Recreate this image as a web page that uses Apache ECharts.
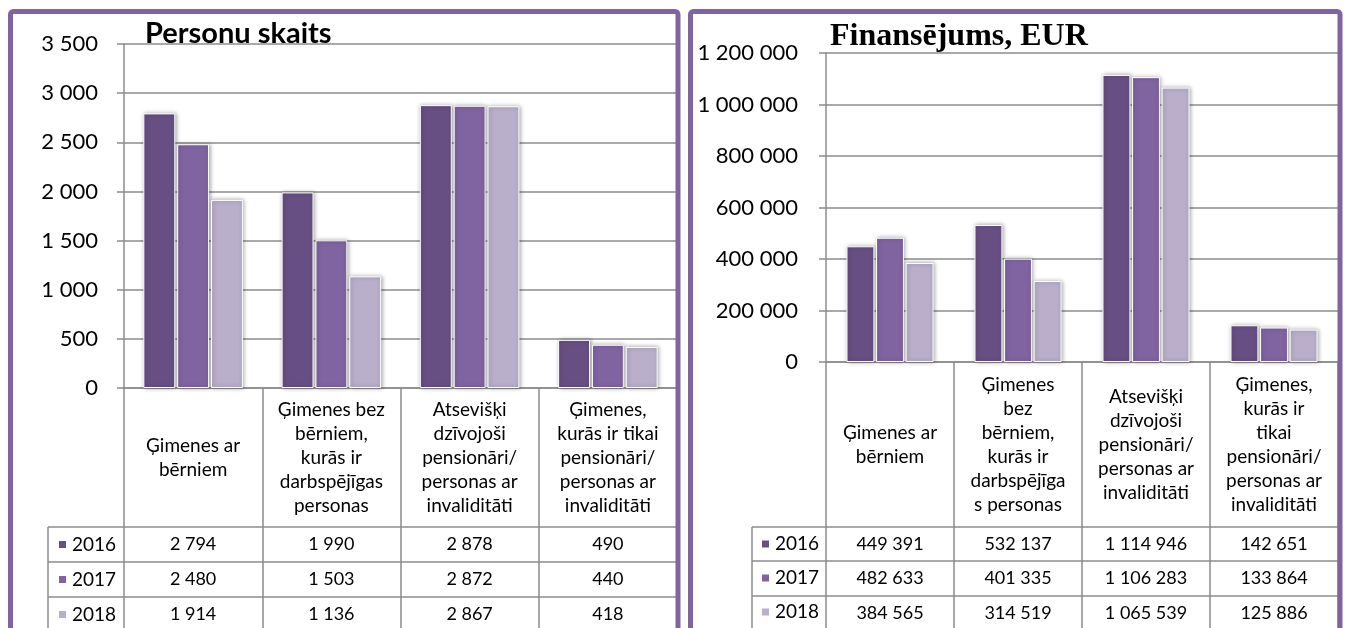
<!DOCTYPE html>
<html>
<head>
<meta charset="utf-8">
<script src="https://cdn.jsdelivr.net/npm/echarts@6/dist/echarts.min.js"></script>
<style>
html, body { margin: 0; padding: 0; background: #fff; }
#main { width: 1348px; height: 628px; }
</style>
</head>
<body>
<div id="main"></div>
<script>
// years / colours
const years = ['2016', '2017', '2018'];
const yearColors = ['#674f84', '#8064a2', '#b9afcb'];

// Personu skaits
const personCategories = [
    'Ģimenes ar\nbērniem',
    'Ģimenes bez\nbērniem,\nkurās ir\ndarbspējīgas\npersonas',
    'Atsevišķi\ndzīvojoši\npensionāri/\npersonas ar\ninvaliditāti',
    'Ģimenes,\nkurās ir tikai\npensionāri/\npersonas ar\ninvaliditāti'
];
const persons2016 = [2794, 1990, 2878, 490];
const persons2017 = [2480, 1503, 2872, 440];
const persons2018 = [1914, 1136, 2867, 418];

// Finansējums, EUR
const fundingCategories = [
    'Ģimenes ar\nbērniem',
    'Ģimenes\nbez\nbērniem,\nkurās ir\ndarbspējīga\ns personas',
    'Atsevišķi\ndzīvojoši\npensionāri/\npersonas ar\ninvaliditāti',
    'Ģimenes,\nkurās ir\ntikai\npensionāri/\npersonas ar\ninvaliditāti'
];
const funding2016 = [449391, 532137, 1114946, 142651];
const funding2017 = [482633, 401335, 1106283, 133864];
const funding2018 = [384565, 314519, 1065539, 125886];

const thousands = (v) => String(v).replace(/\B(?=(\d{3})+(?!\d))/g, ' ');

const LINE = '#8c8c8c';
const FONT = 'Lato';

const panels = [
    {
        title: 'Personu skaits',
        titleStyle: { fontFamily: FONT, fontWeight: 'bold', fontSize: 29, color: '#000' },
        titleLeft: 145, titleTop: 19,
        categories: personCategories,
        values: [persons2016, persons2017, persons2018],
        max: 3500, interval: 500,
        frameX: 10.5, frameW: 667.5,
        left: 124, width: 553, top: 44, bottom: 388,
        rows: [527, 562, 597, 632], tableLeft: 48, iconX: 57,
        labelMargin: 26, barCategoryGap: '28%'
    },
    {
        title: 'Finansējums, EUR',
        titleStyle: { fontFamily: 'Liberation Serif', fontWeight: 'bold', fontSize: 32, color: '#000' },
        titleLeft: 830, titleTop: 21,
        categories: fundingCategories,
        values: [funding2016, funding2017, funding2018],
        max: 1200000, interval: 200000,
        frameX: 690.5, frameW: 649.5,
        left: 826, width: 512, top: 53, bottom: 362,
        rows: [527, 561, 596, 631], tableLeft: 752, iconX: 760,
        labelMargin: 28, barCategoryGap: '32%'
    }
];

const option = {
    backgroundColor: '#fff',
    animation: false,
    title: [], grid: [], xAxis: [], yAxis: [], series: [], legend: [], graphic: []
};

panels.forEach((p, i) => {
    option.title.push({ text: p.title, left: p.titleLeft, top: p.titleTop, padding: 0, textStyle: p.titleStyle });
    option.grid.push({ left: p.left, top: p.top, width: p.width, height: p.bottom - p.top, outerBoundsMode: 'none' });

    // main category axis: header row labels, ticks run down as table column lines
    option.xAxis.push({
        type: 'category', gridIndex: i, data: p.categories, position: 'bottom',
        axisLine: { show: true, lineStyle: { color: LINE, width: 1.5 } },
        axisTick: { show: true, length: 640 - p.bottom, lineStyle: { color: LINE, width: 1.5 } },
        axisLabel: {
            interval: 0, margin: (p.rows[0] - p.bottom) / 2, verticalAlign: 'middle',
            lineHeight: 24, fontSize: 19, fontFamily: FONT, color: '#000'
        },
        splitLine: { show: false }
    });
    // one extra axis per table row, printing the values
    p.values.forEach((vals, r) => {
        option.xAxis.push({
            type: 'category', gridIndex: i, data: p.categories, position: 'bottom',
            offset: (p.rows[r] + p.rows[r + 1]) / 2 - p.bottom,
            axisLine: { show: false }, axisTick: { show: false }, splitLine: { show: false },
            axisLabel: {
                interval: 0, margin: 0, verticalAlign: 'middle',
                fontSize: 18, fontFamily: FONT, color: '#000',
                formatter: (v, k) => thousands(vals[k])
            }
        });
    });

    option.yAxis.push({
        type: 'value', gridIndex: i, min: 0, max: p.max, interval: p.interval,
        axisLine: { show: true, lineStyle: { color: LINE, width: 1.5 } },
        axisTick: { show: true, length: 7, lineStyle: { color: LINE, width: 1.5 } },
        axisLabel: { margin: p.labelMargin, fontSize: 22, fontFamily: FONT, color: '#000', formatter: thousands },
        splitLine: { show: true, lineStyle: { color: LINE, width: 1.5 } }
    });

    p.values.forEach((vals, y) => {
        option.series.push({
            type: 'bar', name: years[y], xAxisIndex: i * 4, yAxisIndex: i,
            data: vals, barGap: '6%', barCategoryGap: p.barCategoryGap,
            itemStyle: {
                color: yearColors[y], borderColor: '#fff', borderWidth: 1,
                shadowBlur: 4, shadowOffsetX: 1, shadowColor: 'rgba(0,0,0,0.35)'
            }
        });
    });

    const rowH = p.rows[1] - p.rows[0];
    option.legend.push({
        orient: 'vertical', left: p.iconX, top: p.rows[0] + (rowH - 20) / 2, padding: 0,
        itemWidth: 9, itemHeight: 9, itemGap: rowH - 20, icon: 'rect', selectedMode: false,
        textStyle: { fontSize: 19, fontFamily: FONT, color: '#000', lineHeight: 20 },
        data: years
    });

    // panel frame
    option.graphic.push({
        type: 'rect', z: 100,
        shape: { x: p.frameX, y: 11.5, width: p.frameW, height: 700, r: 3 },
        style: { fill: null, stroke: '#8064a2', lineWidth: 5 }
    });
    // table row lines and left border of the legend column
    p.rows.slice(0, 3).forEach((ry) => {
        option.graphic.push({
            type: 'line', z: 50,
            shape: { x1: p.tableLeft, y1: ry, x2: p.left + p.width, y2: ry },
            style: { stroke: LINE, lineWidth: 1.5 }
        });
    });
    option.graphic.push({
        type: 'line', z: 50,
        shape: { x1: p.tableLeft, y1: p.rows[0], x2: p.tableLeft, y2: 640 },
        style: { stroke: LINE, lineWidth: 1.5 }
    });
});

const chart = echarts.init(document.getElementById('main'));
chart.setOption(option);
</script>
</body>
</html>
